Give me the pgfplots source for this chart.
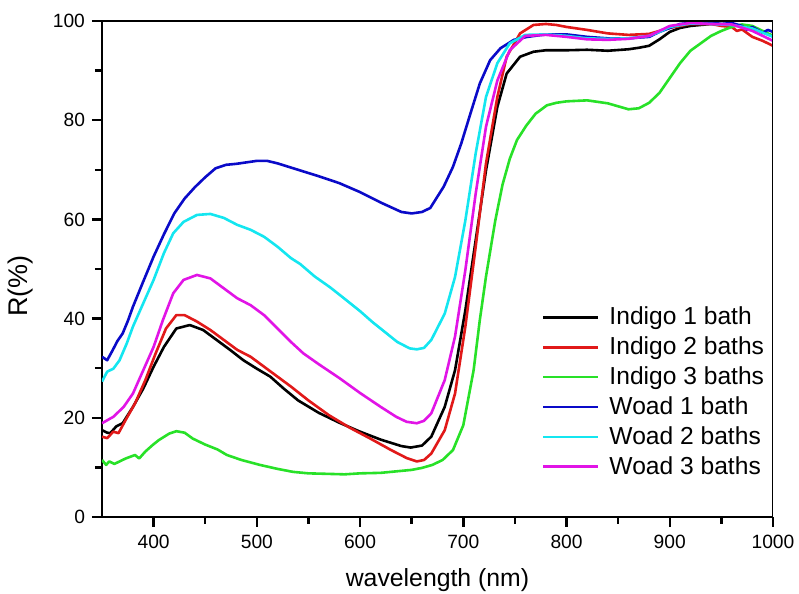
\documentclass[border=0pt]{standalone}
\usepackage{pgfplots}
\pgfplotsset{compat=1.18}
\usepackage{fontspec}
\setmainfont{Liberation Sans}
\definecolor{cblack}{RGB}{0,0,0}
\definecolor{cred}{RGB}{225,25,25}
\definecolor{cgreen}{RGB}{40,225,40}
\definecolor{cblue}{RGB}{10,10,200}
\definecolor{ccyan}{RGB}{20,230,240}
\definecolor{cmag}{RGB}{225,20,230}
\begin{document}
\begin{tikzpicture}
\begin{axis}[
  scale only axis, width=335.5pt, height=248pt,
  xmin=350, xmax=1000, ymin=0, ymax=100,
  xtick={400,500,...,1000}, ytick={0,20,...,100},
  minor x tick num=1, minor y tick num=1,
  tick align=outside, axis x line*=bottom, axis y line*=left,
  major tick length=5pt, minor tick length=3.5pt,
  every tick/.style={black, line width=1.2pt},
  axis line style={line width=1.4pt},
  /pgf/number format/assume math mode=true,
  /pgf/number format/1000 sep={},
  tick label style={font=\fontsize{9.6}{11}\selectfont},
  xticklabel style={yshift=-0.5pt},
  xlabel={wavelength (nm)}, ylabel={R(\%)},
  xlabel style={font=\fontsize{12.4}{14}\selectfont, at={(axis description cs:0.5,-0.127)}, anchor=center},
  ylabel style={font=\fontsize{13.5}{15}\selectfont, at={(axis description cs:-0.121,0.466)}, anchor=center, rotate=0},
  legend style={draw=none, fill=none, at={(axis description cs:0.655,0.432)}, anchor=north west,
     font=\fontsize{12.3}{13}\selectfont, row sep=0.5pt, inner sep=0pt},
  legend cell align=left,
  legend image code/.code={\draw[#1, line width=1.3pt] (0pt,0pt) -- (27.5pt,0pt);},
  every axis plot/.append style={line width=1.3pt, line join=round},
]
\addplot[cblack] table {
350 17.5
355 17.0
358 16.9
364 18.3
370 18.9
380 22.2
390 25.9
400 30.3
410 34.3
422 38.0
435 38.7
448 37.7
461 35.7
474 33.7
487 31.6
500 29.9
513 28.3
526 25.9
540 23.5
560 21.0
580 19.0
600 17.2
620 15.6
640 14.3
649 14.0
660 14.4
669 16.2
682 22.2
692 29.6
702 41.7
712 55.8
722 69.9
733 82.7
742 89.4
755 92.8
768 93.8
780 94.1
800 94.1
820 94.2
840 94.0
860 94.3
870 94.6
880 95.0
890 96.3
900 97.8
910 98.6
920 99.0
940 99.4
960 99.3
980 98.5
1000 97.0
};
\addlegendentry{\hspace{3pt}Indigo 1 bath}
\addplot[cred] table {
350 16.2
355 15.9
361 17.2
366 16.9
373 19.6
382 22.9
392 27.6
402 33.0
412 38.0
422 40.7
430 40.7
442 39.4
455 37.7
468 35.7
481 33.7
494 32.3
507 30.3
520 28.3
533 26.3
550 23.5
570 20.5
590 18.0
610 15.8
630 13.5
645 11.9
655 11.2
662 11.5
669 12.8
682 17.5
692 24.9
702 38.4
712 54.5
722 71.3
733 84.7
742 92.8
755 97.5
768 99.2
780 99.4
790 99.2
800 98.8
820 98.2
840 97.5
860 97.2
880 97.4
900 98.6
920 99.4
940 99.4
950 99.0
960 98.8
965 98.0
970 98.3
980 96.8
990 96.0
1000 95.0
};
\addlegendentry{\hspace{3pt}Indigo 2 baths}
\addplot[cgreen] table {
350 11.5
354 10.5
357 11.2
362 10.7
373 11.8
382 12.5
386 11.8
392 13.2
399 14.5
405 15.5
415 16.8
422 17.3
430 17.0
438 15.8
450 14.6
462 13.6
471 12.5
485 11.5
503 10.5
520 9.7
535 9.1
550 8.8
568 8.7
585 8.6
600 8.8
620 8.9
640 9.3
650 9.5
660 9.9
670 10.5
680 11.5
690 13.5
700 18.5
710 29.6
716 39.7
722 48.5
731 59.8
738 67.0
745 72.2
752 76.0
761 78.9
770 81.3
781 83.0
790 83.5
800 83.8
820 84.0
840 83.4
860 82.2
870 82.4
880 83.5
890 85.5
900 88.5
910 91.5
920 94.0
930 95.5
940 97.0
950 98.0
960 98.8
970 99.3
980 99.0
990 98.0
1000 97.0
};
\addlegendentry{\hspace{3pt}Indigo 3 baths}
\addplot[cblue] table {
350 32.3
355 31.6
360 33.5
365 35.5
370 37.0
375 39.5
380 42.4
390 47.5
400 52.5
410 57.0
420 61.2
430 64.2
440 66.5
450 68.5
460 70.3
470 71.0
480 71.2
490 71.5
500 71.8
510 71.8
520 71.3
540 70.0
560 68.7
580 67.3
600 65.5
620 63.4
640 61.5
650 61.2
660 61.5
668 62.3
681 66.6
690 70.6
698 75.3
707 81.4
716 87.4
726 92.1
736 94.5
749 96.2
762 96.8
780 97.3
800 97.3
820 96.8
840 96.5
860 96.5
880 96.8
890 97.8
900 98.6
910 99.4
920 99.6
940 99.7
950 99.4
960 99.6
970 99.0
975 98.2
980 98.8
990 97.6
995 98.2
1000 97.8
};
\addlegendentry{\hspace{3pt}Woad 1 bath}
\addplot[ccyan] table {
350 27.3
355 29.3
361 29.9
367 31.6
374 35.0
380 38.4
390 43.1
400 47.8
410 53.2
419 57.2
429 59.5
442 60.9
455 61.1
468 60.3
481 58.9
494 57.9
507 56.5
520 54.5
533 52.2
542 51.0
556 48.5
571 46.3
585 44.0
600 41.5
612 39.3
624 37.3
636 35.3
648 34.0
655 33.8
662 34.1
669 35.7
682 41.0
692 48.4
702 59.8
712 73.3
722 84.7
733 91.5
745 95.5
760 97.2
780 97.3
800 97.0
820 96.5
840 96.4
860 96.5
880 97.0
890 97.8
900 98.8
920 99.5
940 99.4
960 99.2
980 98.5
1000 96.8
};
\addlegendentry{\hspace{3pt}Woad 2 baths}
\addplot[cmag] table {
350 18.9
361 20.2
371 22.2
380 24.9
390 29.6
400 34.3
409 39.7
419 45.1
429 47.8
442 48.8
455 48.1
468 46.1
481 44.1
494 42.7
507 40.7
520 38.0
533 35.3
545 33.0
560 30.8
580 28.0
600 25.0
620 22.2
635 20.2
645 19.2
655 18.9
662 19.4
669 20.9
682 27.6
692 36.4
702 49.8
712 65.2
722 78.7
733 88.0
745 94.1
760 97.0
780 97.2
800 96.8
820 96.3
840 96.2
860 96.4
880 97.0
890 98.0
900 99.0
920 99.6
940 99.4
960 99.3
980 98.0
1000 96.0
};
\addlegendentry{\hspace{3pt}Woad 3 baths}
\draw[line width=1.4pt] (axis cs:350,100) -- (axis cs:1000,100) -- (axis cs:1000,0);
\end{axis}
\pgfresetboundingbox
\path (current axis.south west) ++(-51pt,-38.5pt) rectangle ++(399.5pt,297pt);
\end{tikzpicture}
\end{document}
